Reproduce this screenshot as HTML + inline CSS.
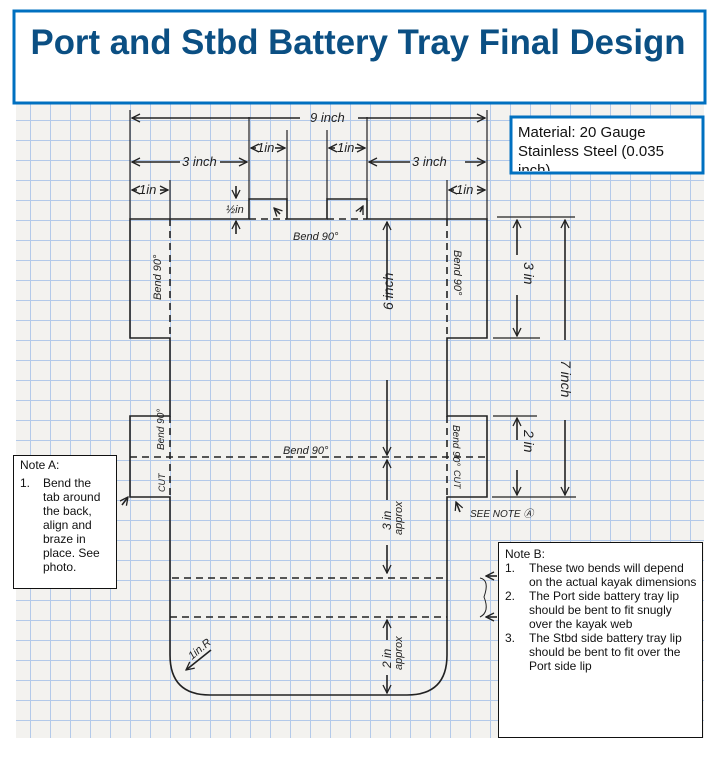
<!DOCTYPE html>
<html><head><meta charset="utf-8"><style>
html,body{margin:0;padding:0;background:#fff;}
svg{display:block;font-family:"Liberation Sans",Arial,sans-serif;}
.h{font-family:"Liberation Sans",sans-serif;font-style:italic;fill:#222;}
</style></head><body>
<svg width="719" height="758" viewBox="0 0 719 758" xmlns="http://www.w3.org/2000/svg">
<defs>
<pattern id="g" x="10" y="0" width="20" height="20" patternUnits="userSpaceOnUse">
<rect width="20" height="20" fill="#f3f2ef"/>
<path d="M0 0.5H20M0.5 0V20" stroke="#b3c9e9" stroke-width="1"/>
</pattern>
<marker id="a" markerWidth="10" markerHeight="10" refX="9" refY="5" orient="auto" markerUnits="userSpaceOnUse"><path d="M1 1L9 5L1 9" fill="none" stroke="#222" stroke-width="1.3"/></marker>
</defs>
<rect x="0" y="0" width="719" height="758" fill="#fff"/>
<rect x="16" y="104" width="688" height="634" fill="url(#g)"/>
<!-- title -->
<rect x="14" y="11" width="691" height="92" fill="#fff" stroke="#0070c0" stroke-width="3"/>
<text x="358" y="54" text-anchor="middle" font-size="35" font-weight="bold" fill="#0b4f83" textLength="655" lengthAdjust="spacingAndGlyphs">Port and Stbd Battery Tray Final Design</text>
<!-- material -->
<rect x="511" y="117" width="192" height="56" fill="#fff" stroke="#0070c0" stroke-width="3"/>
<svg x="512" y="118" width="190" height="53"><text x="6" y="19" font-size="15" fill="#111">Material: 20 Gauge</text><text x="6" y="38" font-size="15" fill="#111">Stainless Steel (0.035</text><text x="6" y="57" font-size="15" fill="#111">inch)</text></svg>
<g stroke="#222" stroke-width="1.6" fill="none">
<path d="M130 219H249V199H287V219H327V199H367V219H487V338H447V416H487V497H447V655Q447 695 407 695H210Q170 695 170 655V497H130V416H170V338H130Z"/>
<g stroke-dasharray="7,5">
<path d="M170 219V338M447 219V338M249 219H287M327 219H367M130 457H488M172 578H447M170 617H447M170 416V497M447 416V497"/>
</g>
<path d="M130 110V219M487 110V219M249 117V199M287 130V199M327 130V199M367 117V199M170 180V219M447 180V219" stroke-width="1.2"/>
<path d="M300 118H132" marker-end="url(#a)"/><path d="M358 118H485" marker-end="url(#a)"/>
<path d="M180 162H132" marker-end="url(#a)"/><path d="M220 162H247" marker-end="url(#a)"/>
<path d="M410 162H369" marker-end="url(#a)"/><path d="M465 162H485" marker-end="url(#a)"/>
<path d="M256 148H251" marker-end="url(#a)"/><path d="M275 148H285" marker-end="url(#a)"/>
<path d="M335 148H329" marker-end="url(#a)"/><path d="M355 148H365" marker-end="url(#a)"/>
<path d="M137 190H132" marker-end="url(#a)"/><path d="M160 190H168" marker-end="url(#a)"/>
<path d="M454 190H449" marker-end="url(#a)"/><path d="M477 190H485" marker-end="url(#a)"/>
<path d="M236 186V198" marker-end="url(#a)"/><path d="M236 234V221" marker-end="url(#a)"/>
<path d="M497 217H575M493 338H540M493 416H537M492 497H576" stroke-width="1.3"/>
<path d="M517 255V220" marker-end="url(#a)"/><path d="M517 295V336" marker-end="url(#a)"/>
<path d="M565 340V220" marker-end="url(#a)"/><path d="M565 420V495" marker-end="url(#a)"/>
<path d="M517 440V418" marker-end="url(#a)"/><path d="M517 470V495" marker-end="url(#a)"/>
<path d="M387 300V222" marker-end="url(#a)"/><path d="M387 380V455" marker-end="url(#a)"/>
<path d="M387 500V460" marker-end="url(#a)"/><path d="M387 545V573" marker-end="url(#a)"/>
<path d="M387 640V620" marker-end="url(#a)"/><path d="M387 675V693" marker-end="url(#a)"/>
<path d="M211 650L186 670" marker-end="url(#a)"/>
<path d="M280 214L274 208" marker-end="url(#a)"/><path d="M360 212L363 206" marker-end="url(#a)"/>
<path d="M460 512L456 502" marker-end="url(#a)"/>
<path d="M497 576H486" marker-end="url(#a)"/><path d="M497 617H486" marker-end="url(#a)"/>
<path d="M480 578Q490 580 484 597Q490 612 480 617" stroke-width="1"/>
<path d="M122 505L128 497" marker-end="url(#a)"/>
</g>
<g class="h" font-size="13">
<text x="310" y="122">9 inch</text>
<text x="182" y="166">3 inch</text><text x="412" y="166">3 inch</text>
<text x="257" y="152">1in</text><text x="337" y="152">1in</text>
<text x="139" y="194">1in</text><text x="456" y="194">1in</text>
<text x="226" y="213" font-size="11">½in</text>
<text x="293" y="240" font-size="11">Bend 90°</text>
<text x="283" y="454" font-size="11">Bend 90°</text>
<text x="470" y="517" font-size="10">SEE NOTE Ⓐ</text>
<text transform="translate(161 300) rotate(-90)" font-size="11">Bend 90°</text>
<text transform="translate(454 250) rotate(90)" font-size="11">Bend 90°</text>
<text transform="translate(164 450) rotate(-90)" font-size="10">Bend 90°</text>
<text transform="translate(453 425) rotate(90)" font-size="10">Bend 90°</text>
<text transform="translate(165 492) rotate(-90)" font-size="9">CUT</text>
<text transform="translate(454 470) rotate(90)" font-size="9">CUT</text>
<text transform="translate(393 310) rotate(-90)" font-size="14">6 inch</text>
<text transform="translate(524 262) rotate(90)" font-size="14">3 in</text>
<text transform="translate(524 430) rotate(90)" font-size="14">2 in</text>
<text transform="translate(561 360) rotate(90)" font-size="14">7 inch</text>
<text transform="translate(391 530) rotate(-90)" font-size="12">3 in</text>
<text transform="translate(402 535) rotate(-90)" font-size="11">approx</text>
<text transform="translate(391 668) rotate(-90)" font-size="12">2 in</text>
<text transform="translate(402 670) rotate(-90)" font-size="11">approx</text>
<text transform="translate(192 660) rotate(-40)" font-size="11">1in.R</text>
</g>
<rect x="13.5" y="455.5" width="103" height="133" fill="#fff" stroke="#111" stroke-width="1"/>
<g font-size="12" fill="#111">
<text x="20" y="469">Note A:</text>
<text x="20" y="487">1.</text>
<text x="43" y="487">Bend the</text><text x="43" y="501">tab around</text><text x="43" y="515">the back,</text>
<text x="43" y="529">align and</text><text x="43" y="543">braze in</text><text x="43" y="557">place. See</text><text x="43" y="571">photo.</text>
</g>
<rect x="498.5" y="542.5" width="204" height="195" fill="#fff" stroke="#111" stroke-width="1"/>
<g font-size="12" fill="#111">
<text x="505" y="558">Note B:</text>
<text x="505" y="572">1.</text><text x="529" y="572">These two bends will depend</text>
<text x="529" y="586">on the actual kayak dimensions</text>
<text x="505" y="600">2.</text><text x="529" y="600">The Port side battery tray lip</text>
<text x="529" y="614">should be bent to fit snugly</text>
<text x="529" y="628">over the kayak web</text>
<text x="505" y="642">3.</text><text x="529" y="642">The Stbd side battery tray lip</text>
<text x="529" y="656">should be bent to fit over the</text>
<text x="529" y="670">Port side lip</text>
</g>
</svg>
</body></html>
